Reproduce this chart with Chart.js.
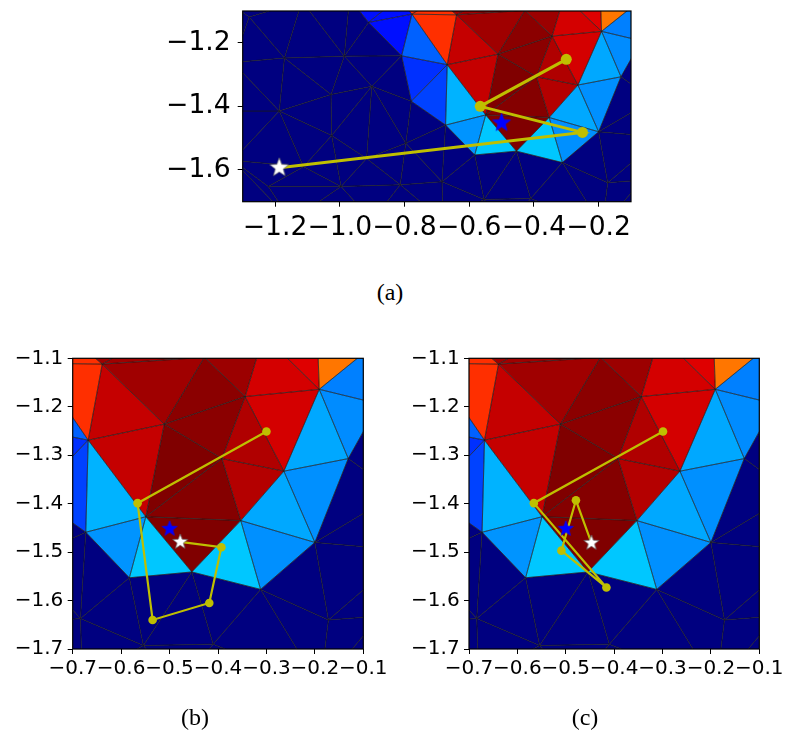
<!DOCTYPE html>
<html>
<head>
<meta charset="utf-8">
<title>mesh paths</title>
<script src="https://cdn.jsdelivr.net/npm/chart.js@4.4.1/dist/chart.umd.min.js"></script>
<style>
  html, body { margin: 0; padding: 0; background: #fff; }
  body { position: relative; width: 787px; height: 744px; overflow: hidden; }
  .panel { position: absolute; }
  .cap { position: absolute; font-family: "Liberation Serif", "DejaVu Serif", serif; font-size: 24px;
         line-height: 1; transform: translate(-50%, -50%); color: #000; }
</style>
</head>
<body>
<canvas id="cA" class="panel" style="left:150px;top:0px" width="500" height="250"></canvas>
<canvas id="cB" class="panel" style="left:0px;top:340px" width="400" height="380"></canvas>
<canvas id="cC" class="panel" style="left:390px;top:340px" width="397" height="380"></canvas>
<div class="cap" style="left:390px;top:292px">(a)</div>
<div class="cap" style="left:195px;top:717px">(b)</div>
<div class="cap" style="left:585px;top:717px">(c)</div>
<script>
// mesh vertices (data units)
const meshX = [-0.639, -0.668, -0.511, -0.344, -0.191, -0.264, -0.392, -0.131, -0.200, -0.353,
               -0.312, -0.454, -0.549, -0.673, -0.583, -0.684, -0.554, -0.410, -0.172, -0.189,
               -0.428, -0.306, -0.194, -0.078, -0.068, -0.031, -0.006, -0.066, 0.000, -0.480,
               -0.550, -0.700, -0.777, -0.820, -0.911, -0.809, -0.779, -1.280, -1.171, -0.986,
               -0.901, -1.027, -1.187, -1.025, -0.796, -1.221, -0.996, -0.813, -0.917, -1.112,
               -1.117, -0.970, -1.360, -1.330, -1.360, -1.330, -1.150, -0.900, -0.680, -1.400];
const meshY = [-1.112, -1.269, -1.236, -1.179, -1.164, -1.333, -1.307, -1.307, -1.480, -1.435,
               -1.577, -1.541, -1.427, -1.459, -1.553, -1.637, -1.693, -1.690, -1.640, -1.779,
               -1.098, -1.052, -1.072, -1.072, -1.194, -1.379, -1.497, -1.632, -1.800, -1.780,
               -1.060, -1.060, -1.110, -1.060, -1.136, -1.241, -1.384, -1.119, -1.248, -1.242,
               -1.337, -1.363, -1.415, -1.492, -1.516, -1.652, -1.652, -1.647, -1.564, -1.590,
               -1.069, -1.060, -1.060, -1.262, -1.415, -1.570, -1.760, -1.760, -1.760, -1.780];
// triangles (vertex indices) and their colour value
const meshTri = [
  [32,0,1], [32,31,0], [33,31,32], [0,31,30], [0,30,20], [0,20,2], [0,2,1], [1,2,12],
  [2,20,3], [20,30,21], [20,21,3], [21,4,3], [21,22,4], [22,23,4], [23,24,4], [4,24,7],
  [4,7,5], [3,4,5], [3,5,6], [2,3,6], [2,6,12], [12,6,9], [6,5,9], [12,9,11],
  [5,7,8], [5,8,9], [9,8,10], [9,10,11], [1,12,13], [13,12,14], [12,11,14], [32,35,1],
  [35,36,1], [1,36,13], [34,33,32], [34,32,35], [51,33,34],
  [7,24,25], [7,25,8], [8,25,26], [8,26,18], [18,26,27], [18,27,19], [27,28,19], [8,18,10],
  [10,18,19], [10,19,17], [11,10,17], [11,17,16], [11,16,14], [14,16,15], [13,14,15], [13,15,44],
  [15,16,58], [16,29,58], [16,17,29], [17,19,29], [15,58,47], [15,47,44], [36,13,44], [40,36,44],
  [40,35,36], [39,35,40], [39,34,35], [39,51,34], [50,51,39], [38,50,39], [37,50,38], [37,52,50],
  [37,53,52], [37,38,53], [38,42,53], [42,54,53], [42,55,54], [38,39,41], [39,40,41], [38,41,42],
  [41,40,43], [41,43,42], [40,44,48], [40,48,43], [48,44,47], [43,48,46], [48,47,46], [42,43,49],
  [43,46,49], [42,49,55], [49,45,55], [49,46,45], [45,56,55], [55,56,59], [45,46,56], [46,57,56],
  [46,47,57], [47,58,57]
];
const meshVal = [
  0.86, 0.86, 0.86, 0.972, 0.972, 0.972, 0.94, 0.94,
  0.99, 0.975, 0.975, 0.927, 0.918, 0.785, 0.25, 0.262,
  0.29, 0.927, 0.958, 0.99, 1.0, 0.995, 0.955, 1.0,
  0.266, 0.29, 0.266, 0.32, 0.30, 0.27, 0.32, 0.22,
  0.172, 0.19, 0.14, 0.14, 0.14,
  0, 0, 0, 0, 0, 0, 0, 0,
  0, 0, 0, 0, 0, 0, 0, 0,
  0, 0, 0, 0, 0, 0, 0, 0,
  0, 0, 0, 0, 0, 0, 0, 0,
  0, 0, 0, 0, 0, 0, 0, 0,
  0, 0, 0, 0, 0, 0, 0, 0,
  0, 0, 0, 0, 0, 0, 0, 0,
  0, 0
];

const xTicksA = [-1.2, -1.0, -0.8, -0.6, -0.4, -0.2];
const yTicksA = [-1.6, -1.4, -1.2];
const xTicksBC = [-0.7, -0.6, -0.5, -0.4, -0.3, -0.2, -0.1];
const yTicksBC = [-1.7, -1.6, -1.5, -1.4, -1.3, -1.2, -1.1];

// searched path, last point is the final estimate (white star)
const pathAX = [-0.300, -0.566, -0.250, -1.187];
const pathAY = [-1.252, -1.400, -1.482, -1.593];
const pathBX = [-0.300, -0.566, -0.535, -0.418, -0.393, -0.478];
const pathBY = [-1.251, -1.399, -1.640, -1.605, -1.490, -1.479];
const pathCX = [-0.299, -0.566, -0.416, -0.509, -0.479, -0.447];
const pathCY = [-1.251, -1.399, -1.573, -1.497, -1.393, -1.481];
// true source (blue star)
const goalX = [-0.500];
const goalY = [-1.452];

// jet colormap
const JET_R = [[0, 0], [0.35, 0], [0.66, 1], [0.89, 1], [1, 0.5]];
const JET_G = [[0, 0], [0.125, 0], [0.375, 1], [0.64, 1], [0.91, 0], [1, 0]];
const JET_B = [[0, 0.5], [0.11, 1], [0.34, 1], [0.65, 0], [1, 0]];
function seg(pts, v) {
  for (let i = 1; i < pts.length; i++) {
    if (v <= pts[i][0]) {
      const [x0, y0] = pts[i - 1], [x1, y1] = pts[i];
      return y0 + (y1 - y0) * (v - x0) / (x1 - x0);
    }
  }
  return pts[pts.length - 1][1];
}
function jet(v) {
  const c = [JET_R, JET_G, JET_B].map(p => Math.round(255 * seg(p, v)));
  return `rgb(${c[0]},${c[1]},${c[2]})`;
}

const fmt = v => v.toFixed(1).replace('-', '\u2212');
const pts = (xs, ys) => xs.map((x, i) => ({x: x, y: ys[i]}));

function starImage(r, fill, edge, ew) {
  const c = document.createElement('canvas');
  const s = Math.ceil(2 * r + 4);
  c.width = s; c.height = s;
  const g = c.getContext('2d');
  g.beginPath();
  for (let i = 0; i < 10; i++) {
    const rad = i % 2 ? r * 0.42 : r;
    const a = -Math.PI / 2 + i * Math.PI / 5;
    g.lineTo(s / 2 + rad * Math.cos(a), s / 2 + rad * Math.sin(a));
  }
  g.closePath();
  g.fillStyle = fill; g.fill();
  g.lineWidth = ew; g.strokeStyle = edge; g.stroke();
  return c;
}

const meshPlugin = {
  id: 'mesh',
  beforeDatasetsDraw(chart) {
    const {ctx, chartArea: ca} = chart;
    const sx = chart.scales.x, sy = chart.scales.y;
    ctx.save();
    ctx.beginPath();
    ctx.rect(ca.left, ca.top, ca.right - ca.left, ca.bottom - ca.top);
    ctx.clip();
    const tri = t => {
      ctx.beginPath();
      t.forEach((k, j) => {
        const px = sx.getPixelForValue(meshX[k]), py = sy.getPixelForValue(meshY[k]);
        if (j) ctx.lineTo(px, py); else ctx.moveTo(px, py);
      });
      ctx.closePath();
    };
    meshTri.forEach((t, i) => {
      tri(t);
      ctx.fillStyle = jet(meshVal[i]);
      ctx.fill();
    });
    ctx.strokeStyle = 'rgba(25,25,25,0.6)';
    ctx.lineWidth = 0.8;
    meshTri.forEach(t => { tri(t); ctx.stroke(); });
    ctx.restore();
  },
  afterDraw(chart) {
    const {ctx, chartArea: ca} = chart;
    ctx.save();
    ctx.strokeStyle = '#000';
    ctx.lineWidth = 1.2;
    ctx.strokeRect(ca.left, ca.top, ca.right - ca.left, ca.bottom - ca.top);
    ctx.restore();
  }
};

function panel(id, c) {
  const cv = document.getElementById(id);
  const W = cv.width, H = cv.height;
  const radii = c.px.map((_, i) => i === c.px.length - 1 ? 0 : c.mr);
  const axis = (min, max, ticks, pad) => ({
    type: 'linear', min: min, max: max,
    afterBuildTicks: s => { s.ticks = ticks.map(v => ({value: v})); },
    grid: {display: true, drawOnChartArea: false, drawTicks: true, tickLength: 5,
           color: '#000', tickColor: '#000', lineWidth: 1},
    border: {display: false},
    ticks: {color: '#000', padding: pad, callback: v => fmt(v),
            autoSkip: false, maxRotation: 0, minRotation: 0,
            font: {family: 'DejaVu Sans', size: c.fs}}
  });
  const xa = axis(c.xr[0], c.xr[1], c.xt, c.padX);
  xa.afterFit = s => { s.height = H - c.area.bottom; s.paddingLeft = 0; s.paddingRight = 0; };
  const ya = axis(-1.7, -1.1, c.yt, c.padY);
  ya.afterFit = s => { s.width = c.area.left; s.paddingTop = 0; s.paddingBottom = 0; };
  new Chart(cv, {
    type: 'scatter',
    data: {
      datasets: [
        {data: pts([c.px[c.px.length - 1]], [c.py[c.py.length - 1]]), order: 1,
         pointStyle: starImage(c.sw, '#ffffff', 'rgba(90,90,90,0.8)', 0.8), pointRadius: c.sw},
        {data: pts(goalX, goalY), order: 2,
         pointStyle: starImage(c.sb, '#0000ff', '#0000ff', 0.6), pointRadius: c.sb},
        {data: pts(c.px, c.py), order: 3, showLine: true,
         borderColor: '#bfbf00', borderWidth: c.lw,
         pointRadius: radii, pointBackgroundColor: '#bfbf00', pointBorderColor: '#bfbf00',
         pointBorderWidth: 0}
      ]
    },
    options: {
      responsive: false, animation: false, events: [],
      layout: {padding: {left: 0, top: c.area.top, right: W - c.area.right, bottom: 0}},
      plugins: {legend: {display: false}, tooltip: {enabled: false}},
      scales: {x: xa, y: ya}
    },
    plugins: [meshPlugin]
  });
}

panel('cA', {xr: [-1.3, -0.1], xt: xTicksA, yt: yTicksA, fs: 26.6, padX: 5, padY: 7,
             area: {left: 92.7, top: 7.3, right: 481, bottom: 201.7},
             px: pathAX, py: pathAY, mr: 5.5, lw: 3, sw: 10, sb: 9.5});
panel('cB', {xr: [-0.7, -0.1], xt: xTicksBC, yt: yTicksBC, fs: 20, padX: 3, padY: 4.4,
             area: {left: 72.7, top: 18.3, right: 363.3, bottom: 309},
             px: pathBX, py: pathBY, mr: 4.3, lw: 2.2, sw: 8, sb: 8});
panel('cC', {xr: [-0.7, -0.1], xt: xTicksBC, yt: yTicksBC, fs: 20, padX: 3, padY: 4.4,
             area: {left: 79, top: 18.3, right: 369.3, bottom: 309},
             px: pathCX, py: pathCY, mr: 4.3, lw: 2.2, sw: 8, sb: 8});
</script>
</body>
</html>
